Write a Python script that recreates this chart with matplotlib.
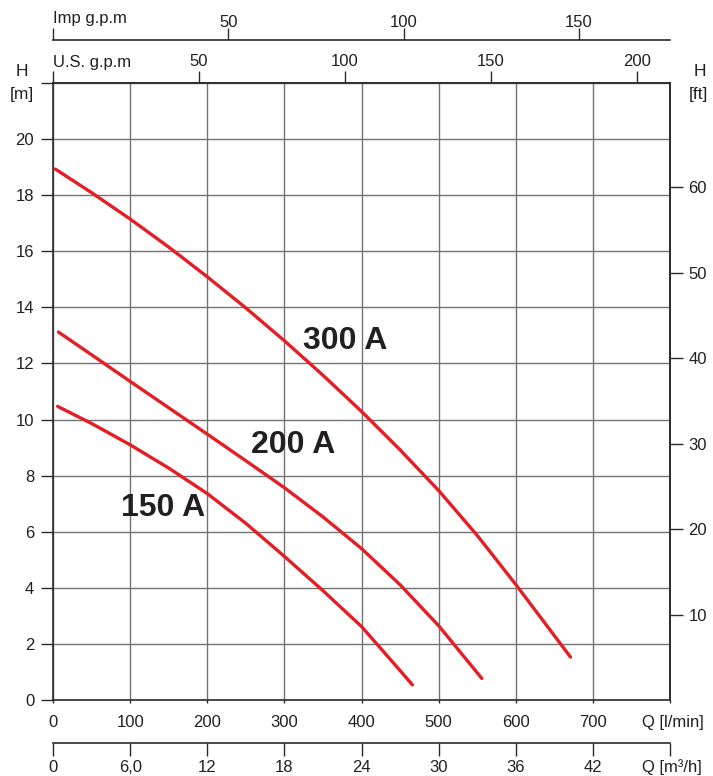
import matplotlib
matplotlib.use("Agg")
import matplotlib.pyplot as plt
from matplotlib import font_manager

plt.rcParams['font.family'] = ['Liberation Sans', 'DejaVu Sans']
_names = {f.name for f in font_manager.fontManager.ttflist}
NARROW = ['Liberation Sans Narrow', 'Liberation Sans'] if 'Liberation Sans Narrow' in _names else ['Liberation Sans', 'DejaVu Sans']

# ---------------- data ----------------
q_ticks = [0, 100, 200, 300, 400, 500, 600, 700, 800]
q_labels = ['0', '100', '200', '300', '400', '500', '600', '700', '']
h_ticks = [0, 2, 4, 6, 8, 10, 12, 14, 16, 18, 20, 22]
h_labels = ['0', '2', '4', '6', '8', '10', '12', '14', '16', '18', '20', '']
ft_ticks = [10, 20, 30, 40, 50, 60]
usgpm_ticks = [0, 50, 100, 150, 200]
usgpm_labels = ['', '50', '100', '150', '200']
impgpm_ticks = [0, 50, 100, 150]
impgpm_labels = ['', '50', '100', '150']
m3h_ticks = [0, 6, 12, 18, 24, 30, 36, 42, 48]
m3h_labels = ['0', '6,0', '12', '18', '24', '30', '36', '42', '']

q_300 = [3, 50, 100, 150, 200, 250, 300, 350, 400, 450, 500, 550, 600, 671]
h_300 = [18.93, 18.09, 17.15, 16.15, 15.09, 13.98, 12.81, 11.58, 10.29, 8.92, 7.47, 5.87, 4.12, 1.53]

q_200 = [7, 50, 100, 150, 200, 250, 300, 350, 400, 450, 500, 556]
h_200 = [13.12, 12.31, 11.36, 10.42, 9.48, 8.53, 7.57, 6.53, 5.40, 4.11, 2.65, 0.77]

q_150 = [6, 50, 100, 150, 200, 250, 300, 350, 400, 450, 466]
h_150 = [10.47, 9.86, 9.10, 8.27, 7.36, 6.30, 5.12, 3.90, 2.62, 1.05, 0.54]

curve_names = ['300 A', '200 A', '150 A']
label_q = [324, 257, 88]
label_h = [12.8, 9.1, 6.86]

# ---------------- figure ----------------
W, H = 713, 776
fig = plt.figure(figsize=(W / 100, H / 100), dpi=100)
ax = fig.add_axes([53 / W, 76 / H, 617 / W, 617 / H])

TXT = '#231f20'
SPINE = '#2a2a2a'
GRID = '#737373'
RED = '#e31e25'

ax.set_xlim(0, 800)
ax.set_ylim(0, 22)
ax.set_xticks(q_ticks)
ax.set_xticklabels(q_labels)
ax.set_yticks(h_ticks)
ax.set_yticklabels(h_labels)
ax.grid(True, color=GRID, lw=1.0)
ax.set_axisbelow(True)
for s in ax.spines.values():
    s.set_color(SPINE)
    s.set_linewidth(1.2)
ax.tick_params(axis='y', direction='out', length=9, width=1.0, color=SPINE,
               labelsize=12, labelcolor=TXT, pad=4.5)
ax.tick_params(axis='x', direction='out', length=2, width=1.0, color=SPINE,
               labelsize=12, labelcolor=TXT, pad=9)

for q, h in [(q_300, h_300), (q_200, h_200), (q_150, h_150)]:
    ax.plot(q, h, color=RED, lw=2.4, solid_capstyle='round',
            solid_joinstyle='round', zorder=3)

for name, lq, lh in zip(curve_names, label_q, label_h):
    ax.text(lq, lh, name, fontsize=23, fontweight='bold', color=TXT,
            ha='left', va='center', zorder=4)

# top US gpm axis
LPM_US = 3.78541
LPM_IMP = 4.54609
sec_us = ax.secondary_xaxis('top', functions=(lambda q: q / LPM_US, lambda g: g * LPM_US))
sec_us.set_xticks(usgpm_ticks)
sec_us.set_xticklabels(usgpm_labels)
sec_us.tick_params(direction='out', length=9, width=1.0, color=SPINE,
                   labelsize=12, labelcolor=TXT, pad=1)
for s in sec_us.spines.values():
    s.set_color(SPINE)
    s.set_linewidth(1.2)

# top Imp gpm axis
sec_imp = ax.secondary_xaxis(43 / 617 + 1.0, functions=(lambda q: q / LPM_IMP, lambda g: g * LPM_IMP))
sec_imp.set_xticks(impgpm_ticks)
sec_imp.set_xticklabels(impgpm_labels)
sec_imp.tick_params(direction='out', length=9, width=1.0, color=SPINE,
                    labelsize=12, labelcolor=TXT, pad=-1.5)
for s in sec_imp.spines.values():
    s.set_color(SPINE)
    s.set_linewidth(1.2)

# bottom m3/h axis
sec_m3 = ax.secondary_xaxis(-43 / 617, functions=(lambda q: q * 0.06, lambda m: m / 0.06))
sec_m3.set_xticks(m3h_ticks)
sec_m3.set_xticklabels(m3h_labels)
sec_m3.tick_params(direction='out', length=9, width=1.0, color=SPINE,
                   labelsize=12, labelcolor=TXT, pad=3.5)
for s in sec_m3.spines.values():
    s.set_color(SPINE)
    s.set_linewidth(1.2)

# right ft axis
M_FT = 3.28084
sec_ft = ax.secondary_yaxis('right', functions=(lambda m: m * M_FT, lambda f: f / M_FT))
sec_ft.set_yticks(ft_ticks)
sec_ft.tick_params(direction='out', length=9, width=1.0, color=SPINE,
                   labelsize=12, labelcolor=TXT, pad=4.3)
for s in sec_ft.spines.values():
    s.set_color(SPINE)
    s.set_linewidth(1.2)


def ftext(x, y, s, **kw):
    fig.text(x / W, 1 - y / H, s, color=TXT, **kw)


ftext(22, 72, 'H', fontsize=12.5, ha='center', va='center')
ftext(22, 94, '[m]', fontsize=12.5, ha='center', va='center')
ftext(700, 72, 'H', fontsize=12.5, ha='center', va='center')
ftext(698, 94, '[ft]', fontsize=12.5, ha='center', va='center')
ftext(53, 19, 'Imp g.p.m', fontsize=12, ha='left', va='center', family=NARROW)
ftext(53, 62, 'U.S. g.p.m', fontsize=12, ha='left', va='center', family=NARROW)
ftext(642, 722, 'Q [l/min]', fontsize=12, ha='left', va='center')
ftext(642, 767, 'Q [m\u00b3/h]', fontsize=12, ha='left', va='center')

fig.savefig('out.png', dpi=100)
